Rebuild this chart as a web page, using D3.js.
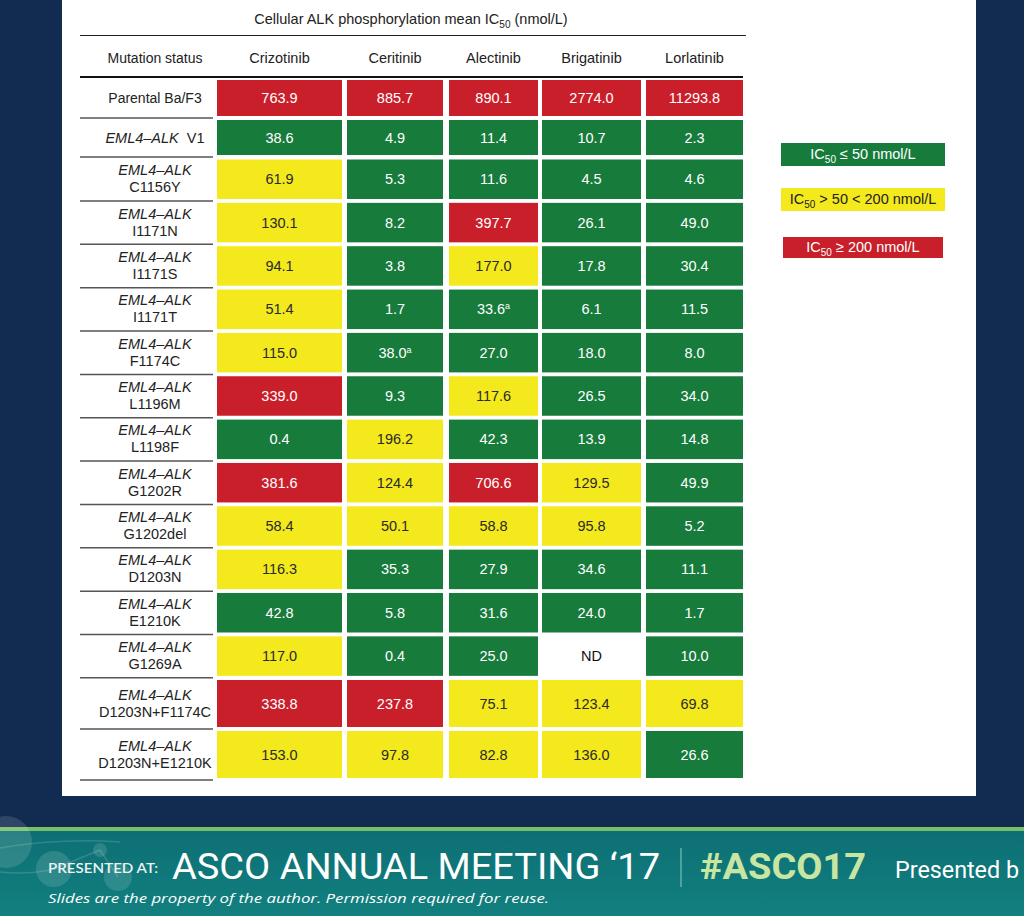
<!DOCTYPE html>
<html><head><meta charset="utf-8">
<script src="https://cdn.jsdelivr.net/npm/d3@7"></script>
<style>html,body{margin:0;padding:0;background:#122b50;} svg{display:block}</style>
</head><body><svg id="c" width="1024" height="916"></svg>
<script>
// ---------- DATA ----------
const drugs = ["Crizotinib", "Ceritinib", "Alectinib", "Brigatinib", "Lorlatinib"];
const mutations = ["Parental Ba/F3", "V1", "C1156Y", "I1171N", "I1171S", "I1171T", "F1174C",
  "L1196M", "L1198F", "G1202R", "G1202del", "D1203N", "E1210K", "G1269A",
  "D1203N+F1174C", "D1203N+E1210K"];
const crizotinib = [763.9, 38.6, 61.9, 130.1, 94.1, 51.4, 115.0, 339.0, 0.4, 381.6, 58.4, 116.3, 42.8, 117.0, 338.8, 153.0];
const ceritinib  = [885.7, 4.9, 5.3, 8.2, 3.8, 1.7, 38.0, 9.3, 196.2, 124.4, 50.1, 35.3, 5.8, 0.4, 237.8, 97.8];
const alectinib  = [890.1, 11.4, 11.6, 397.7, 177.0, 33.6, 27.0, 117.6, 42.3, 706.6, 58.8, 27.9, 31.6, 25.0, 75.1, 82.8];
const brigatinib = [2774.0, 10.7, 4.5, 26.1, 17.8, 6.1, 18.0, 26.5, 13.9, 129.5, 95.8, 34.6, 24.0, null, 123.4, 136.0];
const lorlatinib = [11293.8, 2.3, 4.6, 49.0, 30.4, 11.5, 8.0, 34.0, 14.8, 49.9, 5.2, 11.1, 1.7, 10.0, 69.8, 26.6];
const footnoted = [["Ceritinib", "F1174C"], ["Alectinib", "I1171T"]];
const titleText = ["Cellular ALK phosphorylation mean IC", "50", " (nmol/L)"];
const legendLabels = ["\u2264 50 nmol/L", "> 50 < 200 nmol/L", "\u2265 200 nmol/L"];
const genePrefix = "EML4\u2013ALK";

// ---------- LAYOUT ----------
const FONT = "'Liberation Sans', Arial, Helvetica, sans-serif";
const seriesByDrug = {Crizotinib: crizotinib, Ceritinib: ceritinib, Alectinib: alectinib, Brigatinib: brigatinib, Lorlatinib: lorlatinib};
const COL = {green: "#177b3c", yellow: "#f3e91c", red: "#c91f2b"};

const svg = d3.select("#c");
svg.append("rect").attr("width", 1024).attr("height", 916).attr("fill", "#122b50");
svg.append("rect").attr("x", 62).attr("y", 0).attr("width", 914).attr("height", 796).attr("fill", "#ffffff");

const xLeft = d3.scaleOrdinal().domain(drugs).range([217, 347, 449, 542, 646]);
const xRight = d3.scaleOrdinal().domain(drugs).range([342, 443, 538, 641, 743]);
const xMid = d => (xLeft(d) + xRight(d)) / 2;

const tops = [], heights = [];
mutations.forEach((m, i) => {
  if (i === 0) { tops.push(80); heights.push(36); }
  else if (i === 1) { tops.push(120); heights.push(35); }
  else if (m.includes("+")) { const k = i - 14; tops.push(680 + k * 51); heights.push(47); }
  else { tops.push(159.5 + (i - 2) * 43.35); heights.push(39.5); }
});
const yTop = d3.scaleOrdinal().domain(mutations).range(tops);
const yH = d3.scaleOrdinal().domain(mutations).range(heights);
const yMid = m => yTop(m) + yH(m) / 2;

const color = d3.scaleThreshold().domain([50.05, 200]).range([COL.green, COL.yellow, COL.red]);

// title
const t = svg.append("text").attr("x", 411).attr("y", 24).attr("text-anchor", "middle")
  .attr("font-family", FONT).attr("font-size", 14.5).attr("fill", "#222");
t.append("tspan").text(titleText[0]);
t.append("tspan").attr("dy", 4).attr("font-size", 10).text(titleText[1]);
t.append("tspan").attr("dy", -4).text(titleText[2]);

svg.append("line").attr("x1", 80).attr("x2", 746).attr("y1", 35.5).attr("y2", 35.5).attr("stroke", "#222").attr("stroke-width", 1.2);
svg.append("line").attr("x1", 80).attr("x2", 743).attr("y1", 77).attr("y2", 77).attr("stroke", "#111").attr("stroke-width", 2);

// headers
svg.append("text").attr("x", 155).attr("y", 63).attr("text-anchor", "middle")
  .attr("font-family", FONT).attr("font-size", 14).attr("fill", "#222").text("Mutation status");
svg.selectAll("text.hdr").data(drugs).join("text").attr("class", "hdr")
  .attr("x", d => xMid(d)).attr("y", 63).attr("text-anchor", "middle")
  .attr("font-family", FONT).attr("font-size", 14.5).attr("fill", "#222").text(d => d);

// row labels
const lab = svg.append("g");
mutations.forEach((m, i) => {
  const cy = yMid(m);
  if (i === 0) {
    lab.append("text").attr("x", 155).attr("y", cy + 5).attr("text-anchor", "middle")
      .attr("font-family", FONT).attr("font-size", 14).attr("fill", "#222").text(m);
  } else if (i === 1) {
    const tx = lab.append("text").attr("x", 155).attr("y", cy + 5).attr("text-anchor", "middle")
      .attr("font-family", FONT).attr("font-size", 14.5).attr("fill", "#222");
    tx.append("tspan").attr("font-style", "italic").text(genePrefix);
    tx.append("tspan").text("\u00a0 " + m);
  } else {
    lab.append("text").attr("x", 155).attr("y", cy - 4).attr("text-anchor", "middle")
      .attr("font-family", FONT).attr("font-size", 14.5).attr("font-style", "italic").attr("fill", "#222").text(genePrefix);
    lab.append("text").attr("x", 155).attr("y", cy + 13).attr("text-anchor", "middle")
      .attr("font-family", FONT).attr("font-size", 14.5).attr("fill", "#222").text(m);
  }
  const ly = yTop(m) + yH(m) + 2;
  lab.append("line").attr("x1", 80).attr("x2", 213).attr("y1", ly).attr("y2", ly)
    .attr("stroke", "#555").attr("stroke-width", 1.5);
});

// cells
const cells = [];
drugs.forEach(d => mutations.forEach((m, i) => cells.push({drug: d, mut: m, v: seriesByDrug[d][i],
  fn: footnoted.some(f => f[0] === d && f[1] === m)})));
const g = svg.append("g");
g.selectAll("rect.cell").data(cells.filter(c => c.v !== null)).join("rect").attr("class", "cell")
  .attr("x", c => xLeft(c.drug)).attr("y", c => yTop(c.mut))
  .attr("width", c => xRight(c.drug) - xLeft(c.drug)).attr("height", c => yH(c.mut))
  .attr("fill", c => color(c.v));
const vt = g.selectAll("text.val").data(cells).join("text").attr("class", "val")
  .attr("x", c => xMid(c.drug)).attr("y", c => yMid(c.mut) + 5).attr("text-anchor", "middle")
  .attr("font-family", FONT).attr("font-size", 14.5)
  .attr("fill", c => c.v === null ? "#111" : (color(c.v) === COL.yellow ? "#2a2a2a" : "#ffffff"));
vt.append("tspan").text(c => c.v === null ? "ND" : c.v.toFixed(1));
vt.filter(c => c.fn).append("tspan").attr("dy", -5).attr("font-size", 9).text("a");

// legend
const legColors = [COL.green, COL.yellow, COL.red];
const legY = [143, 188, 237];
const legX = [781, 781, 783];
const legW = [164, 164, 160];
const legH = [23, 23, 21];
legendLabels.forEach((l, i) => {
  svg.append("rect").attr("x", legX[i]).attr("y", legY[i]).attr("width", legW[i]).attr("height", legH[i]).attr("fill", legColors[i]);
  const tx = svg.append("text").attr("x", legX[i] + legW[i] / 2).attr("y", legY[i] + legH[i] / 2 + 4)
    .attr("text-anchor", "middle").attr("font-family", FONT).attr("font-size", 14.5)
    .attr("fill", i === 1 ? "#222" : "#fff");
  tx.append("tspan").text("IC");
  tx.append("tspan").attr("dy", 4).attr("font-size", 10).text("50");
  tx.append("tspan").attr("dy", -4).text(" " + l);
});

// footer
const defs = svg.append("defs");
const grad = defs.append("linearGradient").attr("id", "tg").attr("x1", 0).attr("y1", 0).attr("x2", 0).attr("y2", 1);
grad.append("stop").attr("offset", 0).attr("stop-color", "#0d6f74");
grad.append("stop").attr("offset", 1).attr("stop-color", "#12807f");
svg.append("rect").attr("x", 0).attr("y", 831).attr("width", 1024).attr("height", 85).attr("fill", "url(#tg)");
svg.append("rect").attr("x", 0).attr("y", 827).attr("width", 1024).attr("height", 4).attr("fill", "#76c06a");
const deco = svg.append("g").attr("fill", "#ffffff").attr("fill-opacity", 0.13);
[[6, 842, 26], [54, 869, 18], [100, 850, 7], [118, 877, 14]].forEach(c =>
  deco.append("circle").attr("cx", c[0]).attr("cy", c[1]).attr("r", c[2]));
const arcs = svg.append("g").attr("fill", "none").attr("stroke", "#ffffff").attr("stroke-opacity", 0.15).attr("stroke-width", 1.5);
arcs.append("path").attr("d", "M0,848 Q60,838 120,842");
arcs.append("path").attr("d", "M0,872 Q30,875 54,869");
arcs.append("path").attr("d", "M100,850 L118,877");
arcs.append("path").attr("d", "M54,869 L100,850");

svg.append("text").attr("x", 48).attr("y", 873).attr("font-family", "Lato, 'Open Sans', sans-serif")
  .attr("font-size", 13).attr("font-weight", 600).attr("fill", "#e8f4f2").attr("textLength", 110).attr("lengthAdjust", "spacingAndGlyphs").text("PRESENTED AT:");
svg.append("text").attr("x", 172).attr("y", 879).attr("font-family", "Roboto, 'Open Sans', sans-serif")
  .attr("font-size", 37).attr("fill", "#ffffff").attr("textLength", 488).attr("lengthAdjust", "spacingAndGlyphs").text("ASCO ANNUAL MEETING \u201817");
svg.append("line").attr("x1", 681).attr("x2", 681).attr("y1", 848).attr("y2", 887).attr("stroke", "#7fbdb8").attr("stroke-width", 1.2);
svg.append("text").attr("x", 700).attr("y", 879).attr("font-family", "Roboto, 'Open Sans', sans-serif")
  .attr("font-size", 37).attr("font-weight", 700).attr("fill", "#c8e6a2").attr("textLength", 166).attr("lengthAdjust", "spacingAndGlyphs").text("#ASCO17");
svg.append("text").attr("x", 895).attr("y", 878).attr("font-family", "Roboto, 'Open Sans', sans-serif")
  .attr("font-size", 23).attr("fill", "#ffffff").attr("textLength", 124).attr("lengthAdjust", "spacingAndGlyphs").text("Presented b");
svg.append("text").attr("x", 48).attr("y", 903).attr("font-family", "'Open Sans', Lato, sans-serif")
  .attr("font-size", 13.5).attr("font-style", "italic").attr("fill", "#ffffff").attr("textLength", 501).attr("lengthAdjust", "spacingAndGlyphs")
  .text("Slides are the property of the author. Permission required for reuse.");
</script></body></html>
